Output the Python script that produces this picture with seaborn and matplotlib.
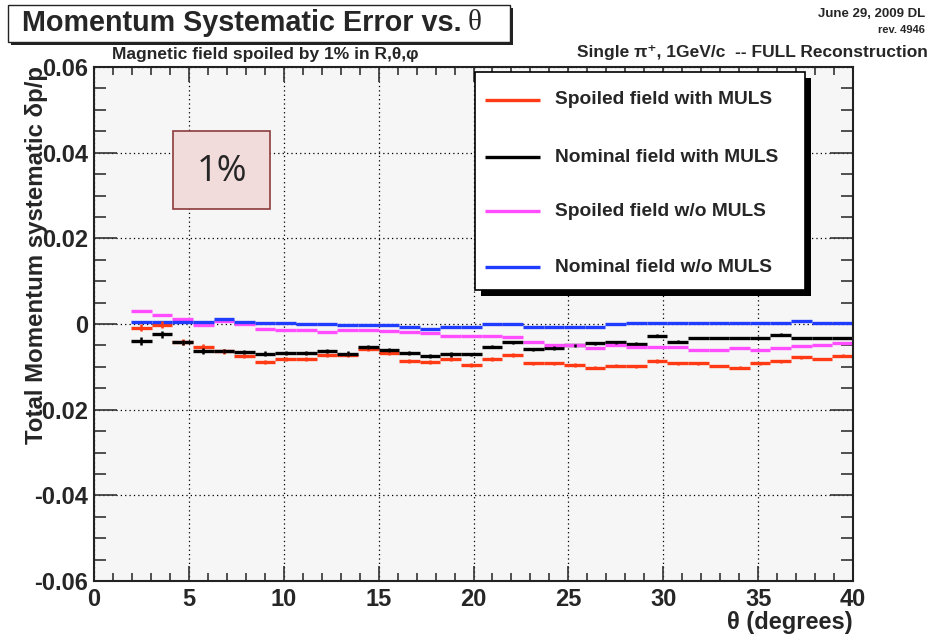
import matplotlib
matplotlib.use("Agg")
import matplotlib.pyplot as plt
import numpy as np
import pandas as pd
import seaborn as sns
from matplotlib.lines import Line2D
from matplotlib.patches import Rectangle
from matplotlib.ticker import MultipleLocator

# theta bin edges (degrees), 35 bins
theta_edges = [1.95, 3.04, 4.12, 5.21, 6.30, 7.39, 8.47, 9.56, 10.65, 11.73,
               12.82, 13.91, 15.00, 16.08, 17.17, 18.26, 19.34, 20.43, 21.52, 22.61,
               23.69, 24.78, 25.87, 26.95, 28.04, 29.13, 30.22, 31.30, 32.39, 33.48,
               34.56, 35.65, 36.74, 37.83, 38.91, 40.00]

spoiled_muls = [-0.0009, -0.0002, -0.0042, -0.0053, -0.0064, -0.0075, -0.0088, -0.0082, -0.0082, -0.0072,
                -0.0072, -0.0058, -0.0068, -0.0086, -0.0088, -0.0082, -0.0096, -0.0082, -0.0072, -0.0092,
                -0.0092, -0.0096, -0.0102, -0.0097, -0.0099, -0.0086, -0.0092, -0.0092, -0.0098, -0.0102,
                -0.0092, -0.0087, -0.0078, -0.0082, -0.0074]
nominal_muls = [-0.0040, -0.0024, -0.0043, -0.0063, -0.0063, -0.0065, -0.0069, -0.0068, -0.0068, -0.0063,
                -0.0069, -0.0054, -0.0060, -0.0068, -0.0075, -0.0071, -0.0071, -0.0053, -0.0043, -0.0059,
                -0.0056, -0.0050, -0.0045, -0.0043, -0.0046, -0.0027, -0.0041, -0.0033, -0.0033, -0.0033,
                -0.0033, -0.0025, -0.0033, -0.0033, -0.0033]
spoiled_nomuls = [0.0030, 0.0021, 0.0012, -0.0002, 0.0008, 0.0001, -0.0012, -0.0013, -0.0014, -0.0018,
                  -0.0013, -0.0013, -0.0016, -0.0018, -0.0021, -0.0027, -0.0027, -0.0027, -0.0031, -0.0041,
                  -0.0050, -0.0050, -0.0056, -0.0050, -0.0053, -0.0053, -0.0053, -0.0060, -0.0060, -0.0056,
                  -0.0060, -0.0056, -0.0051, -0.0049, -0.0045]
nominal_nomuls = [0.0004, 0.0004, 0.0004, 0.0004, 0.0012, 0.0004, 0.0003, 0.0002, -0.0001, -0.0001,
                  -0.0003, -0.0003, -0.0002, -0.0006, -0.0012, -0.0008, -0.0008, -0.0001, -0.0001, -0.0006,
                  -0.0006, -0.0006, -0.0006, -0.0001, 0.0002, 0.0002, 0.0002, 0.0002, 0.0002, 0.0002,
                  0.0002, 0.0002, 0.0006, 0.0002, 0.0002]

spoiled_muls_err = [0.0008, 0.0008, 0.0006, 0.0006, 0.0005, 0.0005, 0.0005, 0.0005, 0.0005, 0.0005,
                    0.0005, 0.0005, 0.0005, 0.0005, 0.0005, 0.0005, 0.0004, 0.0004, 0.0004, 0.0004,
                    0.0004, 0.0004, 0.0004, 0.0004, 0.0004, 0.0004, 0.0003, 0.0003, 0.0003, 0.0003,
                    0.0003, 0.0003, 0.0003, 0.0003, 0.0003]
nominal_muls_err = [0.0010, 0.0008, 0.0006, 0.0006, 0.0005, 0.0005, 0.0005, 0.0005, 0.0005, 0.0005,
                    0.0005, 0.0005, 0.0005, 0.0005, 0.0005, 0.0005, 0.0004, 0.0004, 0.0004, 0.0004,
                    0.0004, 0.0004, 0.0004, 0.0004, 0.0004, 0.0004, 0.0003, 0.0003, 0.0003, 0.0003,
                    0.0003, 0.0003, 0.0003, 0.0003, 0.0003]

series_names = ["Spoiled field with MULS", "Nominal field with MULS",
                "Spoiled field w/o MULS", "Nominal field w/o MULS"]
series_colors = ["#ff3a14", "#000000", "#ff4dff", "#1f3cff"]

x_ticks = [0, 5, 10, 15, 20, 25, 30, 35, 40]
y_ticks = [-0.06, -0.04, -0.02, 0, 0.02, 0.04, 0.06]
y_tick_labels = ["-0.06", "-0.04", "-0.02", "0", "0.02", "0.04", "0.06"]

W, H = 930, 639


def fx(px):
    return px / W


def fy(py):
    return 1 - py / H


def fig_box(l, t, r, b, **kw):
    return Rectangle((fx(l), fy(b)), fx(r) - fx(l), fy(t) - fy(b), transform=fig.transFigure, **kw)


sns.set_style("ticks")
plt.rcParams["font.family"] = ["Liberation Sans", "DejaVu Sans"]
plt.rcParams["font.weight"] = "bold"

values = [spoiled_muls, nominal_muls, spoiled_nomuls, nominal_nomuls]
rows = []
for name, vals in zip(series_names, values):
    for k, v in enumerate(vals):
        rows.append({"series": name, "seg": k, "theta": theta_edges[k], "value": v})
        rows.append({"series": name, "seg": k, "theta": theta_edges[k + 1], "value": v})
df = pd.DataFrame(rows)

fig = plt.figure(figsize=(W / 100, H / 100), dpi=100)
ax = fig.add_axes([fx(94), fy(581), fx(853) - fx(94), fy(67) - fy(581)])
ax.set_facecolor("#f6f6f6")

sns.lineplot(data=df, x="theta", y="value", hue="series", units="seg", estimator=None,
             hue_order=series_names, palette=dict(zip(series_names, series_colors)),
             linewidth=2.4, legend=False, sort=False, solid_capstyle="butt", ax=ax)

centers = [(a + b) / 2 for a, b in zip(theta_edges[:-1], theta_edges[1:])]
for vals, errs, color in [(spoiled_muls, spoiled_muls_err, series_colors[0]),
                          (nominal_muls, nominal_muls_err, series_colors[1])]:
    v = np.array(vals)
    e = np.array(errs)
    ax.vlines(centers, v - e, v + e, colors=color, linewidth=1.8)

ax.set_xlim(0, 40)
ax.set_ylim(-0.06, 0.06)
ax.set_xticks(x_ticks)
ax.set_xticklabels([str(t) for t in x_ticks])
ax.set_yticks(y_ticks)
ax.set_yticklabels(y_tick_labels)
ax.xaxis.set_minor_locator(MultipleLocator(1))
ax.yaxis.set_minor_locator(MultipleLocator(0.005))
ax.set_xlabel("")
ax.set_ylabel("")
ax.grid(True, which="major", color="black", linestyle=(0, (1, 2.5)), linewidth=0.9)
ax.tick_params(axis="both", which="both", direction="in", top=True, right=True,
               labelsize=17, width=1.2, color="#333333")
ax.tick_params(axis="y", which="major", length=16.5, pad=4)
ax.tick_params(axis="y", which="minor", length=8.5)
ax.tick_params(axis="x", which="major", length=11, pad=5)
ax.tick_params(axis="x", which="minor", length=5.5)
for s in ax.spines.values():
    s.set_color("#222222")
    s.set_linewidth(1.5)

# axis titles
fig.text(fx(37), fy(66), "Total Momentum systematic δp/p", rotation=90, ha="center", va="top",
         fontsize=17.3, fontweight="bold")
fig.text(fx(853), fy(622), "θ (degrees)", ha="right", va="center", fontsize=17, fontweight="bold")

# title box with shadow
fig.add_artist(fig_box(11, 8, 513, 45, facecolor="#222222", edgecolor="none"))
fig.add_artist(fig_box(8, 5, 510, 42, facecolor="white", edgecolor="#222222", linewidth=1))
fig.text(fx(462), fy(23), "Momentum Systematic Error vs.", ha="right", va="center",
         fontsize=20.7, fontweight="bold")
fig.text(fx(468), fy(23), "θ", ha="left", va="center", fontsize=21,
         fontweight="normal", family=["Liberation Serif", "DejaVu Serif"])

fig.text(fx(112), fy(55), "Magnetic field spoiled by 1% in R,θ,φ", ha="left", va="center",
         fontsize=12.5, fontweight="bold")
fig.text(fx(925), fy(14), "June 29, 2009 DL", ha="right", va="center", fontsize=9.5, fontweight="bold")
fig.text(fx(925), fy(30), "rev. 4946", ha="right", va="center", fontsize=8, fontweight="bold")
fig.text(fx(928), fy(53), "Single π⁺, 1GeV/c  -- FULL Reconstruction", ha="right", va="center",
         fontsize=12.5, fontweight="bold")

# legend box with shadow
fig.add_artist(fig_box(481, 78, 811, 296, facecolor="black", edgecolor="none"))
fig.add_artist(fig_box(475, 72, 805, 290, facecolor="white", edgecolor="black", linewidth=1.2))
for i, (name, color) in enumerate(zip(series_names, series_colors)):
    yy = [100, 157, 211, 267][i]
    fig.add_artist(Line2D([fx(485), fx(540)], [fy(yy), fy(yy)], transform=fig.transFigure,
                          color=color, linewidth=2.4, solid_capstyle="butt"))
    fig.text(fx(555), fy(yy), name, ha="left", va="center", fontsize=13.8, fontweight="bold")

# 1% box
fig.add_artist(fig_box(173, 131, 270, 209, facecolor="#f2dcdb", edgecolor="#8c3b3b", linewidth=1.2))
fig.text(fx(221.5), fy(172), "1%", ha="center", va="center", fontsize=26, fontweight="normal",
         family=["Open Sans", "DejaVu Sans"])

fig.savefig("out.png", dpi=100)
